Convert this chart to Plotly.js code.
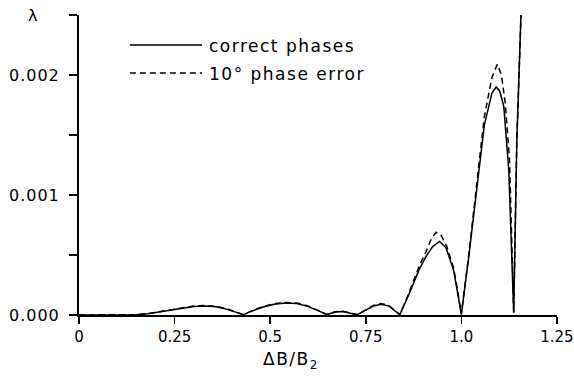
<!DOCTYPE html>
<html>
<head>
<meta charset="utf-8">
<script src="https://cdn.plot.ly/plotly-3.0.1.min.js"></script>
<style>
html,body{margin:0;padding:0;background:#fff;}
#chart{width:574px;height:379px;}
.annotation-text{letter-spacing:1.5px;}
.ytick text{letter-spacing:1px;}
</style>
</head>
<body>
<div id="chart"></div>
<script>
// ΔB/B2 values and λ for the two cases
const xSolid = [0, 0.10, 0.15, 0.18, 0.22, 0.26, 0.30, 0.33, 0.36, 0.39, 0.41, 0.43, 0.45, 0.48, 0.51, 0.54, 0.57, 0.60, 0.63, 0.648, 0.67, 0.69, 0.71, 0.728, 0.75, 0.77, 0.79, 0.81, 0.83, 0.839, 0.86, 0.875, 0.89, 0.908, 0.925, 0.943, 0.96, 0.98, 0.99, 1.0, 1.02, 1.038, 1.06, 1.08, 1.091, 1.10, 1.111, 1.124, 1.13, 1.137, 1.145, 1.156];
const ySolid = [0, 0, 0.000002, 0.00001, 0.00003, 0.00005, 0.00007, 0.000075, 0.000068, 0.000045, 0.000025, 0.000003, 0.00003, 0.000065, 0.00009, 0.0001, 0.000095, 0.00007, 0.00003, 0.000004, 0.000025, 0.00003, 0.000015, 0.000003, 0.00004, 0.000075, 0.00009, 0.000075, 0.000025, 0.000003, 0.00015, 0.00027, 0.00038, 0.00049, 0.00057, 0.000613, 0.00056, 0.00037, 0.0002, 0.000005, 0.0005, 0.00099, 0.00158, 0.00185, 0.0019, 0.00187, 0.00174, 0.00121, 0.00065, 0.00002, 0.00144, 0.0025];

const xDashed = [0, 0.10, 0.15, 0.18, 0.22, 0.26, 0.30, 0.33, 0.36, 0.39, 0.41, 0.43, 0.45, 0.48, 0.51, 0.54, 0.57, 0.60, 0.63, 0.648, 0.67, 0.69, 0.71, 0.728, 0.75, 0.77, 0.79, 0.81, 0.83, 0.839, 0.86, 0.875, 0.89, 0.908, 0.922, 0.934, 0.948, 0.962, 0.98, 0.99, 1.0, 1.02, 1.038, 1.06, 1.08, 1.094, 1.105, 1.115, 1.126, 1.132, 1.137, 1.145, 1.156];
const yDashed = [0, 0, 0.000003, 0.000012, 0.000033, 0.000055, 0.000075, 0.00008, 0.000072, 0.000048, 0.000027, 0.000003, 0.000032, 0.00007, 0.000095, 0.000105, 0.0001, 0.000074, 0.000032, 0.000004, 0.000027, 0.000032, 0.000016, 0.000003, 0.000042, 0.00008, 0.000095, 0.00008, 0.000027, 0.000003, 0.00016, 0.00029, 0.00041, 0.00053, 0.00064, 0.00069, 0.00066, 0.00057, 0.00039, 0.00021, 0.000005, 0.00052, 0.00104, 0.00165, 0.00198, 0.00209, 0.002, 0.00176, 0.0013, 0.0007, 0.00002, 0.00144, 0.0025];

const seriesNames = ["correct phases", "10° phase error"];
const xTickVals = [0, 0.25, 0.5, 0.75, 1.0, 1.25];
const xTickText = ["0", "0.25", "0.5", "0.75", "1.0", "1.25"];
const yTickStep = 0.001;      // labelled ticks 0.000, 0.001, 0.002
const yMinorStep = 0.0005;    // unlabelled ticks in between and at top

const FONT = "DejaVu Sans, Liberation Sans, sans-serif";

const traces = [
  {x: xSolid, y: ySolid, mode: "lines", name: seriesNames[0],
   line: {color: "#000", width: 1.5, dash: "solid"}},
  {x: xDashed, y: yDashed, mode: "lines", name: seriesNames[1],
   line: {color: "#000", width: 1.5, dash: "6px,4px"}}
];

const layout = {
  width: 574, height: 379,
  margin: {l: 79, r: 17, t: 15, b: 64},
  paper_bgcolor: "#fff", plot_bgcolor: "#fff",
  showlegend: false,
  font: {family: FONT, size: 16, color: "#000"},
  xaxis: {
    range: [0, 1.2502], showgrid: false, zeroline: false,
    showline: true, linecolor: "#000", linewidth: 2,
    ticks: "outside", ticklen: 7, tickwidth: 1.5, tickcolor: "#000",
    tickmode: "array", tickvals: xTickVals, ticktext: xTickText,
    ticklabeloverflow: "allow",
    tickfont: {family: FONT, size: 15, color: "#000"}
  },
  yaxis: {
    range: [0, 0.0025005], showgrid: false, zeroline: false,
    showline: true, linecolor: "#000", linewidth: 2,
    ticks: "outside", ticklen: 8, tickwidth: 1.5, tickcolor: "#000",
    tickmode: "linear", tick0: 0, dtick: yTickStep, tickformat: ".3f",
    ticklabelstandoff: 6,
    tickfont: {family: FONT, size: 16, color: "#000"},
    minor: {ticks: "outside", tickmode: "linear", tick0: 0, dtick: yMinorStep, ticklen: 8, tickwidth: 1.5, tickcolor: "#000", showgrid: false}
  },
  shapes: [
    {type: "line", xref: "paper", yref: "paper", x0: 0.1064, x1: 0.2574, y0: 0.9, y1: 0.9,
     line: {color: "#000", width: 1.5, dash: "solid"}},
    {type: "line", xref: "paper", yref: "paper", x0: 0.1064, x1: 0.2574, y0: 0.8067, y1: 0.8067,
     line: {color: "#000", width: 1.5, dash: "6px,4px"}}
  ],
  annotations: [
    {text: seriesNames[0], xref: "paper", yref: "paper", x: 0.268, y: 0.8967,
     xanchor: "left", yanchor: "middle", showarrow: false,
     font: {family: FONT, size: 17, color: "#000"}},
    {text: seriesNames[1], xref: "paper", yref: "paper", x: 0.268, y: 0.8033,
     xanchor: "left", yanchor: "middle", showarrow: false,
     font: {family: FONT, size: 17, color: "#000"}},
    {text: "ΔB/B<sub>2</sub>", xref: "paper", yref: "paper", x: 0.444, y: -0.152,
     xanchor: "center", yanchor: "middle", showarrow: false,
     font: {family: FONT, size: 17, color: "#000"}},
    {text: "λ", xref: "paper", yref: "paper", x: -0.096, y: 1.0,
     xanchor: "center", yanchor: "middle", showarrow: false,
     font: {family: FONT, size: 16, color: "#000"}}
  ]
};

Plotly.newPlot("chart", traces, layout, {staticPlot: true, displayModeBar: false});
</script>
</body>
</html>
